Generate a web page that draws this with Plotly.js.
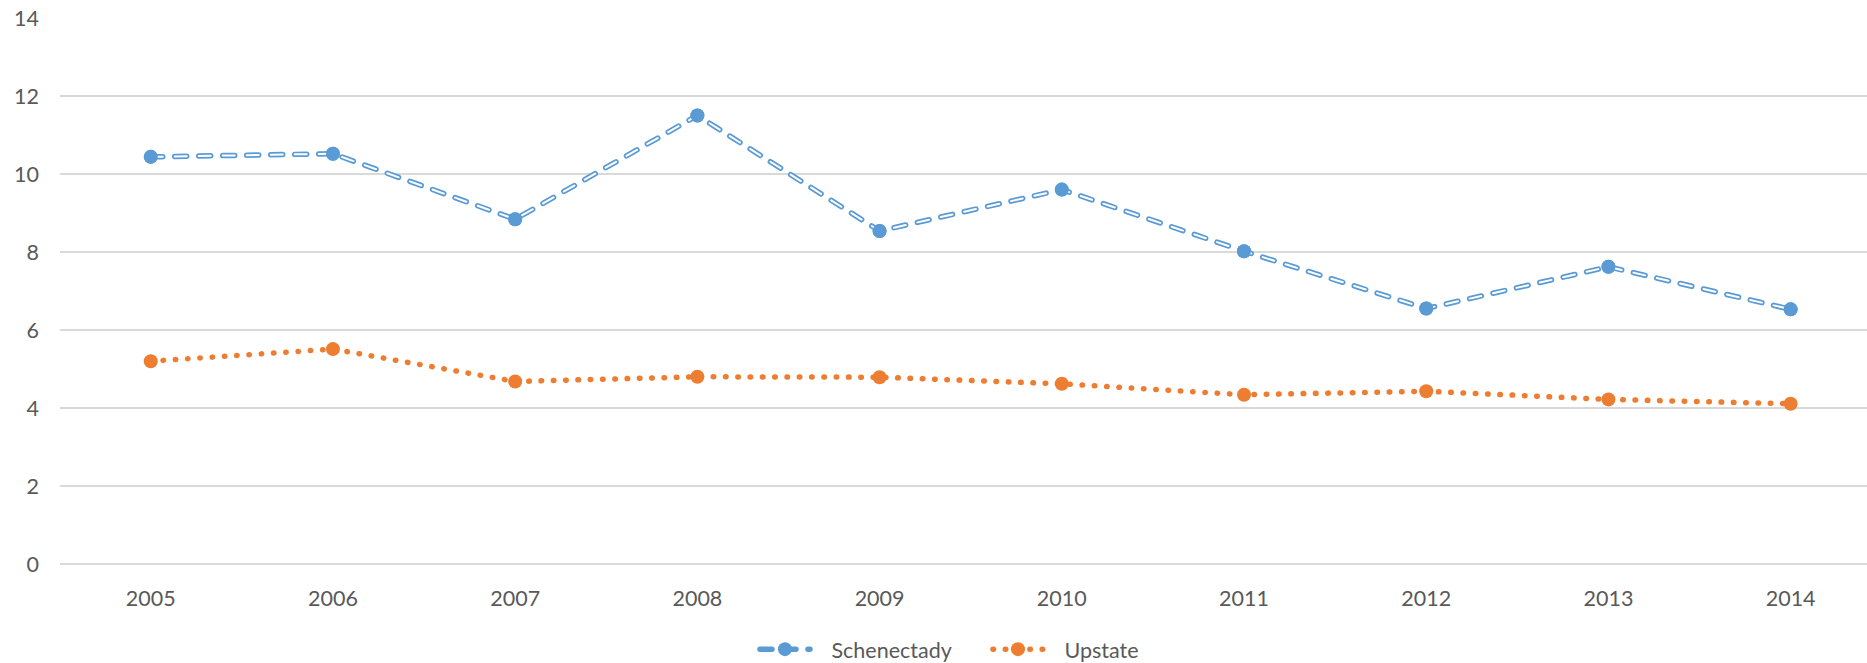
<!DOCTYPE html>
<html>
<head>
<meta charset="utf-8">
<script src="https://cdn.plot.ly/plotly-3.0.1.min.js"></script>
<style>
  html, body { margin: 0; padding: 0; background: #fff; }
  #chart { width: 1867px; height: 663px; }
  .scatterlayer .js-line, .legend .js-line { stroke-linecap: round; }
</style>
</head>
<body>
<div id="chart"></div>
<script>
const years = ["2005", "2006", "2007", "2008", "2009", "2010", "2011", "2012", "2013", "2014"];
const schenectady = [10.44, 10.52, 8.84, 11.5, 8.54, 9.6, 8.02, 6.55, 7.62, 6.53];
const upstate = [5.2, 5.51, 4.68, 4.8, 4.79, 4.62, 4.34, 4.43, 4.22, 4.11];
const seriesNames = ["Schenectady", "Upstate"];
const yTicks = [0, 2, 4, 6, 8, 10, 12, 14];

const blue = "#5B9BD5";
const orange = "#ED7D31";
const textColor = "#595959";
const fontFamily = "Lato, 'Open Sans', sans-serif";
const pad = "\u00A0\u00A0\u00A0";

const traces = [
  {
    x: years, y: schenectady, name: pad + seriesNames[0], type: "scatter", mode: "lines+markers",
    line: { color: blue, width: 5.5, dash: "12px,12px" },
    marker: { color: blue, size: 14 }
  },
  {
    x: years, y: schenectady, name: seriesNames[0] + " inner", type: "scatter", mode: "lines",
    line: { color: "#ffffff", width: 2, dash: "12px,12px" },
    showlegend: false, hoverinfo: "skip"
  },
  {
    x: years, y: schenectady, name: seriesNames[0], type: "scatter", mode: "markers",
    marker: { color: blue, size: 14 }, showlegend: false
  },
  {
    x: years, y: upstate, name: pad + seriesNames[1], type: "scatter", mode: "lines+markers",
    line: { color: orange, width: 5.5, dash: "0.5px,11.8px" },
    marker: { color: orange, size: 14 }
  }
];

const layout = {
  width: 1867, height: 663,
  margin: { l: 60, r: 0, t: 18, b: 99, pad: 0, autoexpand: false },
  paper_bgcolor: "#ffffff", plot_bgcolor: "#ffffff",
  font: { family: fontFamily, size: 21.5, color: textColor },
  showlegend: true,
  legend: {
    orientation: "h", x: 0.3846, xanchor: "left", y: -0.156, yanchor: "middle",
    font: { family: fontFamily, size: 21.5, color: textColor },
    itemwidth: 50, entrywidth: 168, entrywidthmode: "pixels", traceorder: "normal"
  },
  xaxis: {
    type: "category", range: [-0.498, 9.419],
    showgrid: false, zeroline: false, showline: false, ticks: "",
    tickfont: { family: fontFamily, size: 21.5, color: textColor },
    ticklabelstandoff: 19, fixedrange: true
  },
  yaxis: {
    range: [0, 14], tickvals: yTicks, ticktext: yTicks.map(String),
    showgrid: true, gridcolor: "#D9D9D9", gridwidth: 1.8,
    zeroline: true, zerolinecolor: "#D9D9D9", zerolinewidth: 1.8,
    showline: false, ticks: "",
    tickfont: { family: fontFamily, size: 21.5, color: textColor },
    ticklabelstandoff: 20, fixedrange: true
  },
  hovermode: false
};

Plotly.newPlot("chart", traces, layout, { displayModeBar: false, staticPlot: true });
</script>
</body>
</html>
